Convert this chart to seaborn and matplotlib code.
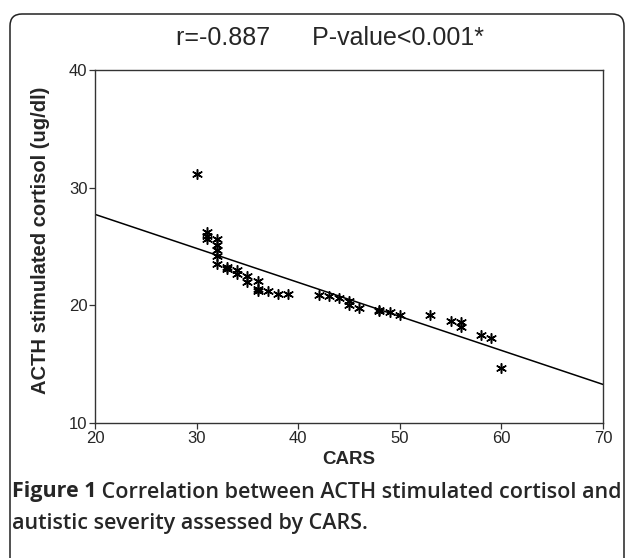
import matplotlib
matplotlib.use("Agg")
import matplotlib.pyplot as plt
import matplotlib.patches as mpatches
import seaborn as sns

# CARS score vs ACTH stimulated cortisol
cars = [30, 31, 31, 31, 32, 32, 32, 32, 32, 33, 33, 34, 34, 35, 35, 36, 36, 36,
        37, 38, 39, 42, 43, 44, 45, 45, 46, 48, 48, 49, 50, 53, 55, 56, 56, 58, 59, 60]
cortisol = [31.2, 26.2, 25.9, 25.6, 25.6, 25.1, 24.7, 24.2, 23.5, 23.3, 23.1, 23.0, 22.7,
            22.5, 22.0, 22.1, 21.4, 21.2, 21.2, 21.0, 21.0, 20.9, 20.8, 20.6, 20.4, 20.0,
            19.8, 19.6, 19.5, 19.4, 19.2, 19.2, 18.7, 18.6, 18.2, 17.5, 17.2, 14.7]

x_ticks = [20, 30, 40, 50, 60, 70]
y_ticks = [10, 20, 30, 40]

title_text = "r=-0.887      P-value<0.001*"
caption_bold = "Figure 1"
caption_rest = " Correlation between ACTH stimulated cortisol and"
caption_line2 = "autistic severity assessed by CARS."

sns.set_style("ticks")
plt.rcParams['font.family'] = ['Liberation Sans', 'DejaVu Sans']

W, H = 627, 558
fig = plt.figure(figsize=(W / 100, H / 100), dpi=100)
ax = fig.add_axes([95 / W, 1 - 423 / H, (603 - 95) / W, (423 - 70) / H])

ax.set_xlim(20, 70)
ax.set_ylim(10, 40)

#scatter + fitted line across the full x range
sns.regplot(x=cars, y=cortisol, ax=ax, ci=None, truncate=False, color='black',
            marker=(6, 2, 0),
            scatter_kws={'s': 48, 'linewidths': 1.1, 'alpha': 1},
            line_kws={'linewidth': 1.1, 'color': 'black'})

ax.set_xlim(20, 70)
ax.set_ylim(10, 40)
ax.set_xticks(x_ticks)
ax.set_yticks(y_ticks)
ax.tick_params(labelsize=12, length=4, width=0.9, color='#333333', pad=1.5)
for side in ['top', 'right', 'bottom', 'left']:
    ax.spines[side].set_visible(True)
    ax.spines[side].set_linewidth(1.0)
    ax.spines[side].set_color('#333333')

ax.set_xlabel("")
ax.set_ylabel("")

fig.text(330 / W, 1 - 38 / H, title_text, fontsize=18, ha='center', va='center')
fig.text(349 / W, 1 - 459 / H, "CARS", fontsize=13.5, fontweight='bold', ha='center', va='center')
fig.text(41 / W, 1 - 240 / H, "ACTH stimulated cortisol (ug/dl)", fontsize=14.5,
         fontweight='bold', rotation=90, ha='center', va='center')

#caption with bold lead-in
cap_font = ['Open Sans', 'DejaVu Sans']
renderer = fig.canvas.get_renderer()
t1 = fig.text(12 / W, 1 - 492 / H, caption_bold, fontsize=15.5, fontweight='bold',
              family=cap_font, ha='left', va='center')
bb = t1.get_window_extent(renderer=renderer)
fig.text(bb.x1 / W, 1 - 492 / H, caption_rest, fontsize=15.5, fontweight='semibold',
         family=cap_font, ha='left', va='center')
fig.text(12 / W, 1 - 523 / H, caption_line2, fontsize=15.5, fontweight='semibold',
         family=cap_font, ha='left', va='center')

#rounded frame, open at the bottom
frame = mpatches.FancyBboxPatch((0.10, -0.5), 6.14, 5.94,
                                boxstyle="round,pad=0,rounding_size=0.12",
                                transform=fig.dpi_scale_trans, fill=False,
                                edgecolor='#222222', linewidth=1.1, clip_on=False)
fig.add_artist(frame)

plt.savefig("out.png", dpi=100)
plt.close()
